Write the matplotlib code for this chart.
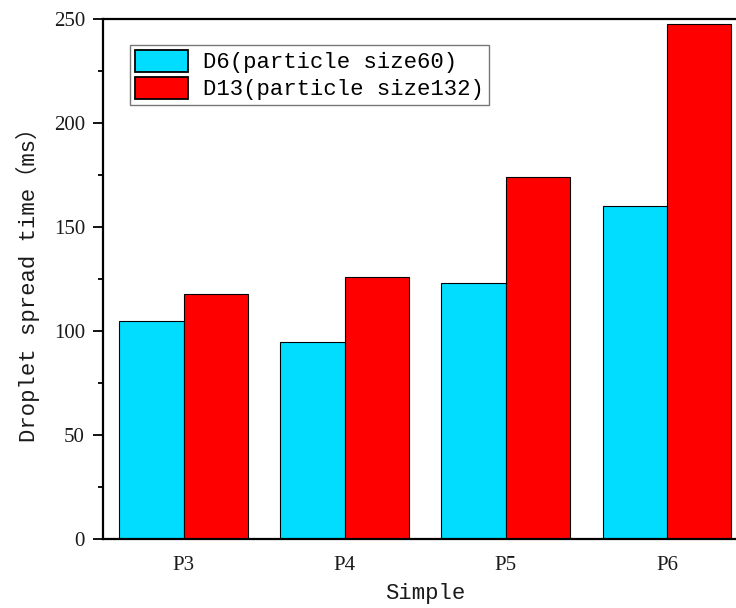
import matplotlib
matplotlib.use("Agg")
import matplotlib.pyplot as plt
import numpy as np

samples = ["P3", "P4", "P5", "P6"]
d6_times = [105, 95, 123, 160]
d13_times = [118, 126, 174, 248]
series_labels = ["D6(particle size60)", "D13(particle size132)"]

LABEL_FONT = ["Liberation Mono", "Noto Sans CJK SC"]
TICK_FONT = ["Liberation Serif", "DejaVu Serif"]

fig = plt.figure(figsize=(7.36, 6.08), dpi=100)
ax = fig.add_axes([0.140, 0.1135, 0.8757, 0.8545])

x = np.arange(len(samples))
width = 0.4
ax.bar(x - width / 2, d6_times, width, color="#00DDFF", edgecolor="black",
       linewidth=0.8, label=series_labels[0])
ax.bar(x + width / 2, d13_times, width, color="#FF0000", edgecolor="black",
       linewidth=0.8, label=series_labels[1])

ax.set_xlim(-0.5, len(samples) - 0.5)
ax.set_ylim(0, 250)
ax.set_xticks(x)
ax.set_xticklabels(samples)
ax.set_yticks(np.arange(0, 251, 50))
ax.set_yticks(np.arange(25, 250, 50), minor=True)

for side in ["left", "top", "bottom"]:
    ax.spines[side].set_linewidth(1.6)
ax.spines["right"].set_visible(False)

ax.tick_params(axis="y", which="major", direction="out", length=7, width=1.3, pad=6)
ax.tick_params(axis="y", which="minor", direction="out", length=3.5, width=1.3)
ax.tick_params(axis="x", which="both", length=0, pad=12)
for lab in ax.get_xticklabels() + ax.get_yticklabels():
    lab.set_family(TICK_FONT)
    lab.set_fontsize(15)
    lab.set_color("#1a1a1a")

ax.set_xlabel("Simple", family=LABEL_FONT, fontsize=16, labelpad=6, color="#1a1a1a")
ax.set_ylabel("Droplet spread time\uff08ms\uff09", family=LABEL_FONT, fontsize=16,
              labelpad=10, color="#1a1a1a")

leg = ax.legend(loc="upper left", bbox_to_anchor=(0.042, 0.95),
                prop={"family": LABEL_FONT, "size": 16},
                frameon=True, fancybox=False, borderpad=0.2,
                handlelength=2.4, handleheight=1.15, handletextpad=0.7,
                labelspacing=0.15, borderaxespad=0)
leg.get_frame().set_edgecolor("#555555")
leg.get_frame().set_linewidth(1.0)
for h in leg.legend_handles:
    h.set_linewidth(1.3)

fig.savefig("out.png", dpi=100)
